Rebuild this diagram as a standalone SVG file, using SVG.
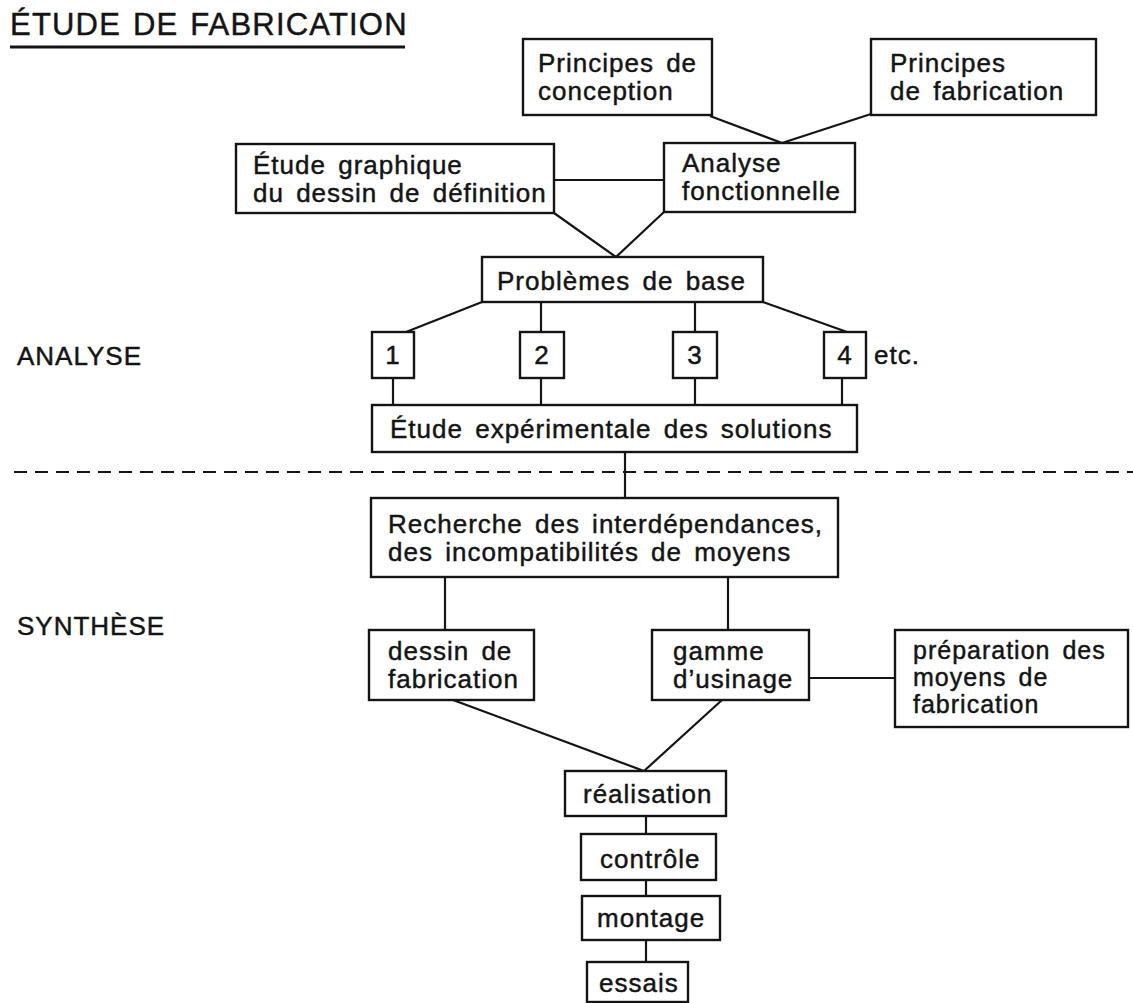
<svg xmlns="http://www.w3.org/2000/svg" width="1133" height="1003" viewBox="0 0 1133 1003">
<style>
text{font-family:"Liberation Sans",Arial,sans-serif;font-size:26px;letter-spacing:1px;word-spacing:4px;fill:#141414;stroke:#141414;stroke-width:0.45}
.box{fill:#fff;stroke:#141414;stroke-width:2.4}
.ln{fill:none;stroke:#141414;stroke-width:2.2}
.c{text-anchor:middle}
.sm{font-size:25px}
</style>
<rect width="1133" height="1003" fill="#fff"/>
<g id="title">
<text x="10" y="35" style="font-size:31px;letter-spacing:1.2px;word-spacing:2px">ÉTUDE DE FABRICATION</text>
<line x1="10" y1="47" x2="405" y2="47" stroke="#141414" stroke-width="3"/>
</g>
<g id="labels">
<text x="17" y="365">ANALYSE</text>
<text x="17" y="635">SYNTHÈSE</text>
<text x="874" y="364">etc.</text>
</g>
<g id="connectors">
<line class="ln" x1="710" y1="116" x2="782" y2="143"/>
<line class="ln" x1="871" y1="114" x2="782" y2="143"/>
<line class="ln" x1="554" y1="180" x2="664" y2="180"/>
<line class="ln" x1="554" y1="213" x2="616" y2="257"/>
<line class="ln" x1="664" y1="212" x2="616" y2="257"/>
<line class="ln" x1="482" y1="302" x2="406" y2="332"/>
<line class="ln" x1="541" y1="302" x2="541" y2="332"/>
<line class="ln" x1="695" y1="302" x2="695" y2="332"/>
<line class="ln" x1="763" y1="302" x2="847" y2="332"/>
<line class="ln" x1="393" y1="378" x2="393" y2="405"/>
<line class="ln" x1="541" y1="378" x2="541" y2="405"/>
<line class="ln" x1="695" y1="378" x2="695" y2="405"/>
<line class="ln" x1="842" y1="378" x2="842" y2="405"/>
<line class="ln" x1="625" y1="452" x2="625" y2="498"/>
<line x1="14" y1="472" x2="1133" y2="472" stroke="#141414" stroke-width="2" stroke-dasharray="13 8"/>
<line class="ln" x1="445" y1="577" x2="445" y2="630"/>
<line class="ln" x1="728" y1="577" x2="728" y2="630"/>
<line class="ln" x1="809" y1="678" x2="895" y2="678"/>
<line class="ln" x1="453" y1="700" x2="644" y2="771"/>
<line class="ln" x1="722" y1="700" x2="644" y2="771"/>
<line class="ln" x1="646" y1="816" x2="646" y2="834"/>
<line class="ln" x1="646" y1="880" x2="646" y2="896"/>
<line class="ln" x1="646" y1="940" x2="646" y2="962"/>
</g>
<g id="n-conception">
<rect class="box" x="523" y="39" width="189" height="76"/>
<text x="538" y="72">Principes de</text>
<text x="538" y="100">conception</text>
</g>
<g id="n-fabrication">
<rect class="box" x="871" y="39" width="225" height="76"/>
<text x="890" y="72">Principes</text>
<text x="890" y="100">de fabrication</text>
</g>
<g id="n-graphique">
<rect class="box" x="236" y="144" width="318" height="69"/>
<text x="253" y="174">Étude graphique</text>
<text x="253" y="202">du dessin de définition</text>
</g>
<g id="n-fonctionnelle">
<rect class="box" x="664" y="143" width="191" height="69"/>
<text x="682" y="172">Analyse</text>
<text x="682" y="200">fonctionnelle</text>
</g>
<g id="n-problemes">
<rect class="box" x="482" y="257" width="281" height="45"/>
<text x="497" y="290">Problèmes de base</text>
</g>
<g id="n-1">
<rect class="box" x="372" y="332" width="42" height="46"/>
<text class="c" x="393" y="364">1</text>
</g>
<g id="n-2">
<rect class="box" x="520" y="332" width="44" height="46"/>
<text class="c" x="542" y="364">2</text>
</g>
<g id="n-3">
<rect class="box" x="673" y="332" width="44" height="46"/>
<text class="c" x="695" y="364">3</text>
</g>
<g id="n-4">
<rect class="box" x="824" y="332" width="42" height="46"/>
<text class="c" x="845" y="364">4</text>
</g>
<g id="n-experimentale">
<rect class="box" x="372" y="405" width="485" height="47"/>
<text x="390" y="438">Étude expérimentale des solutions</text>
</g>
<g id="n-recherche">
<rect class="box" x="371" y="498" width="467" height="79"/>
<text x="388" y="533">Recherche des interdépendances,</text>
<text x="388" y="561">des incompatibilités de moyens</text>
</g>
<g id="n-dessin">
<rect class="box" x="369" y="630" width="165" height="70"/>
<text x="388" y="660">dessin de</text>
<text x="388" y="688">fabrication</text>
</g>
<g id="n-gamme">
<rect class="box" x="652" y="630" width="157" height="70"/>
<text x="673" y="660">gamme</text>
<text x="673" y="688">d’usinage</text>
</g>
<g id="n-preparation">
<rect class="box" x="895" y="630" width="233" height="97"/>
<text class="sm" x="913" y="659">préparation des</text>
<text class="sm" x="913" y="686">moyens de</text>
<text class="sm" x="913" y="713">fabrication</text>
</g>
<g id="n-realisation">
<rect class="box" x="565" y="771" width="161" height="45"/>
<text x="583" y="803">réalisation</text>
</g>
<g id="n-controle">
<rect class="box" x="581" y="834" width="135" height="46"/>
<text x="600" y="868">contrôle</text>
</g>
<g id="n-montage">
<rect class="box" x="582" y="896" width="138" height="44"/>
<text x="597" y="927">montage</text>
</g>
<g id="n-essais">
<rect class="box" x="587" y="962" width="101" height="40"/>
<text x="599" y="992">essais</text>
</g>
</svg>
